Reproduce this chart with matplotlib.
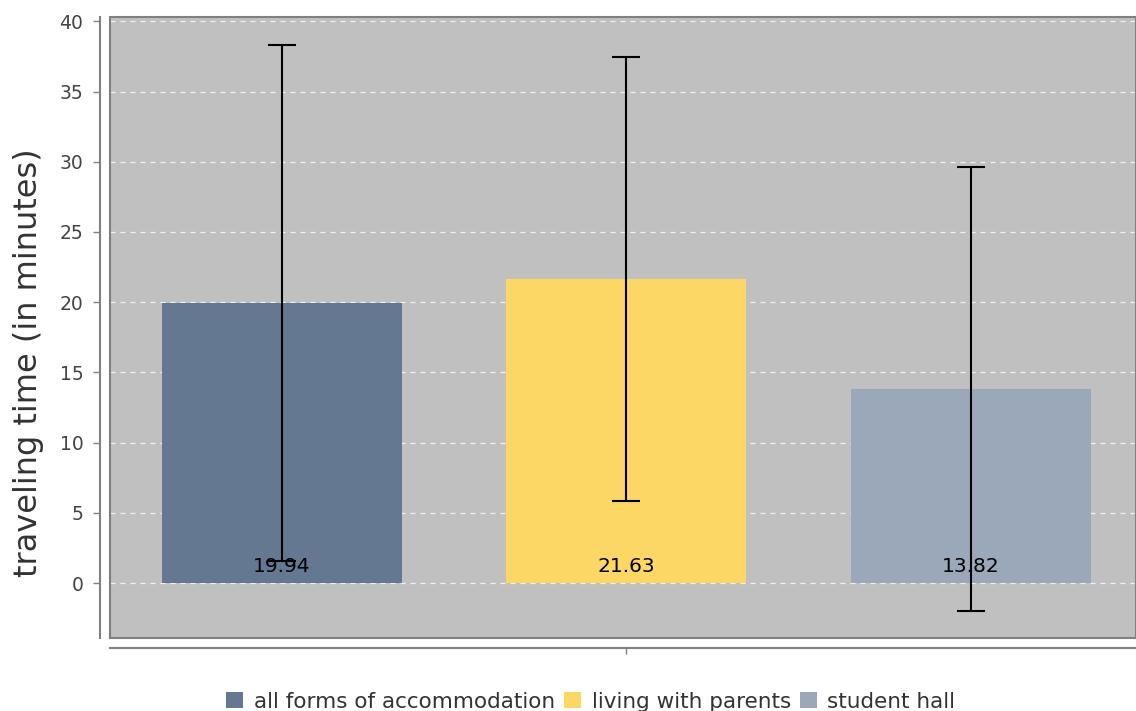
import matplotlib.pyplot as plt
from matplotlib.patches import Rectangle, Patch

categories = ["all forms of accommodation", "living with parents", "student hall"]
means = [19.94, 21.63, 13.82]
stds = [18.35, 15.8, 15.78]
colors = ["#647891", "#fcd766", "#9aa8ba"]

fig = plt.figure(figsize=(11.36, 7.11), dpi=100)
ax = fig.add_axes([0.0968, 0.1027, 0.9032, 0.8733])
ax.set_facecolor("#c0c0c0")

xs = range(len(categories))
ax.bar(xs, means, width=0.697, color=colors, zorder=2)
ax.errorbar(xs, means, yerr=stds, fmt="none", ecolor="black", elinewidth=1.5,
            capsize=10, capthick=1.5, zorder=3)
for x, m in zip(xs, means):
    ax.text(x, 1.2, "%.2f" % m, ha="center", va="center", fontsize=14.5, zorder=4)

ax.set_xlim(-0.5, 2.48)
ax.set_ylim(-3.9, 40.3)
ax.set_yticks(range(0, 41, 5))
ax.set_xticks([1])
ax.set_xticklabels([""])
ax.yaxis.grid(True, color="white", linestyle=(0, (4, 4)), linewidth=0.9, alpha=0.8, zorder=1)
ax.set_axisbelow(True)

# detached axis lines, frame around plot area
for s in ["top", "right"]:
    ax.spines[s].set_visible(False)
ax.spines["left"].set_position(("outward", 7.2))
ax.spines["bottom"].set_position(("outward", 7.2))
ax.spines["left"].set_color("#808080")
ax.spines["bottom"].set_color("#808080")
ax.spines["left"].set_linewidth(1.5)
ax.spines["bottom"].set_linewidth(1.5)
ax.add_patch(Rectangle((0, 0), 1, 1, transform=ax.transAxes, fill=False,
                       edgecolor="#808080", linewidth=1.5, clip_on=False, zorder=5))

ax.tick_params(axis="y", colors="#808080", labelcolor="#444444", labelsize=13.5, length=5, width=1, pad=7)
ax.tick_params(axis="x", colors="#808080", length=4, width=1)
ax.set_ylabel("traveling time (in minutes)", fontsize=23, color="#333333")
ax.yaxis.set_label_coords(-0.064, 0.444)

handles = [Patch(facecolor=c, edgecolor="none") for c in colors]
fig.legend(handles, categories, loc="lower center", bbox_to_anchor=(0.52, -0.028), ncol=3,
           frameon=False, fontsize=15.5, handlelength=0.8, handleheight=0.8,
           handletextpad=0.5, columnspacing=0.4, labelcolor="#333333")

fig.savefig("out.png", dpi=100)
